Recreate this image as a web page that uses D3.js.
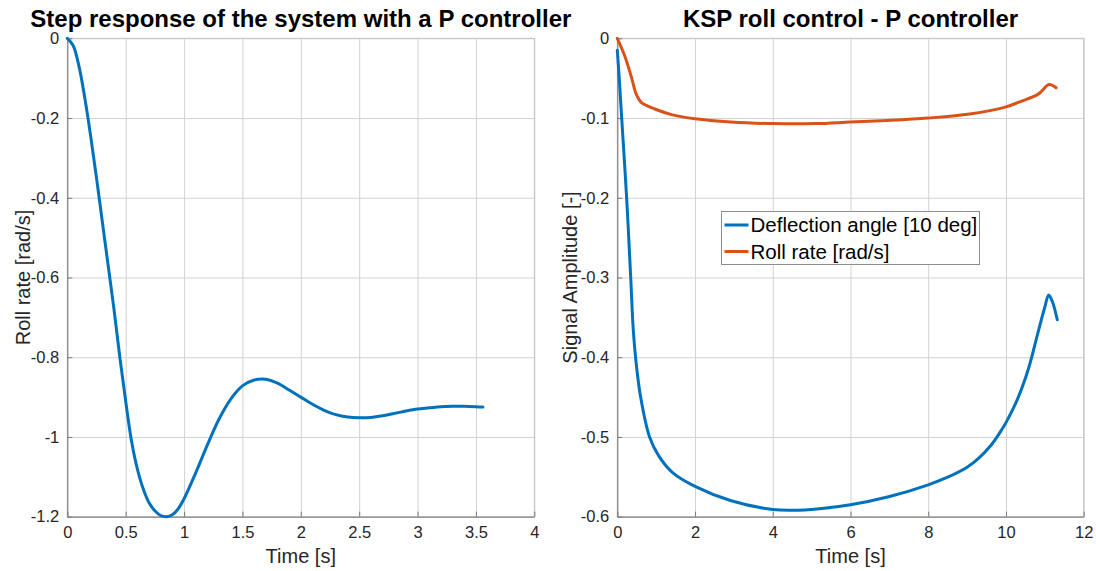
<!DOCTYPE html>
<html>
<head>
<meta charset="utf-8">
<script src="https://cdn.jsdelivr.net/npm/d3@7"></script>
<style>
  html, body { margin: 0; padding: 0; background: #fff; }
  svg { display: block; font-family: "Liberation Sans", Arial, Helvetica, sans-serif; }
</style>
</head>
<body>
<svg id="chart" width="1096" height="571"></svg>
<script>
// ---- Left panel: step response with a P controller ----
const stepTime = [0, 0.05, 0.10, 0.15, 0.20, 0.25, 0.30, 0.35, 0.40, 0.45, 0.50, 0.55, 0.60, 0.65, 0.70,
  0.75, 0.80, 0.85, 0.90, 0.95, 1.00, 1.10, 1.20, 1.30, 1.40, 1.50, 1.60, 1.70, 1.80, 1.90, 2.00,
  2.10, 2.20, 2.30, 2.40, 2.50, 2.60, 2.70, 2.80, 2.90, 3.00, 3.10, 3.20, 3.30, 3.40, 3.50, 3.56];
const stepRollRate = [0, -0.018, -0.07, -0.15, -0.245, -0.35, -0.46, -0.57, -0.68, -0.80, -0.91, -1.01, -1.08, -1.13, -1.165,
  -1.185, -1.197, -1.20, -1.195, -1.18, -1.155, -1.09, -1.02, -0.955, -0.905, -0.872, -0.857, -0.855, -0.865, -0.882, -0.90,
  -0.918, -0.933, -0.944, -0.950, -0.952, -0.951, -0.947, -0.941, -0.935, -0.930, -0.927, -0.924, -0.923, -0.923, -0.924, -0.925];
const leftXTicks = [0, 0.5, 1, 1.5, 2, 2.5, 3, 3.5, 4];
const leftXTickLabels = ["0", "0.5", "1", "1.5", "2", "2.5", "3", "3.5", "4"];
const leftYTicks = [0, -0.2, -0.4, -0.6, -0.8, -1, -1.2];
const leftYTickLabels = ["0", "-0.2", "-0.4", "-0.6", "-0.8", "-1", "-1.2"];

// ---- Right panel: KSP roll control ----
const deflTime = [0, 0.05, 0.113, 0.24, 0.345, 0.41, 0.48, 0.6, 0.83, 1.07, 1.43, 2.0, 2.93, 4.0, 4.5, 5.2, 6.0,
  6.98, 8.0, 8.5, 9.0, 9.3, 9.62, 9.85, 10.0, 10.2, 10.4, 10.6, 10.83, 11.0, 11.1, 11.2, 11.32];
const deflAngle = [-0.015, -0.05, -0.1, -0.2, -0.3, -0.365, -0.405, -0.45, -0.5, -0.524, -0.545, -0.562, -0.580, -0.591, -0.592, -0.590, -0.585,
  -0.575, -0.560, -0.5505, -0.538, -0.5265, -0.510, -0.494, -0.482, -0.463, -0.440, -0.411, -0.368, -0.337, -0.322, -0.331, -0.353];
const rateTime = [0, 0.19, 0.37, 0.47, 0.55, 0.63, 0.98, 1.42, 2.0, 2.92, 4.0, 5.1, 6.0, 6.96, 8.0, 9.07, 10.0, 10.39,
  10.83, 11.11, 11.29];
const rollRate = [0, -0.022, -0.05, -0.068, -0.076, -0.081, -0.089, -0.096, -0.101, -0.105, -0.107, -0.107, -0.105, -0.103, -0.100, -0.095, -0.086, -0.079,
  -0.070, -0.058, -0.062];
const rightXTicks = [0, 2, 4, 6, 8, 10, 12];
const rightXTickLabels = ["0", "2", "4", "6", "8", "10", "12"];
const rightYTicks = [0, -0.1, -0.2, -0.3, -0.4, -0.5, -0.6];
const rightYTickLabels = ["0", "-0.1", "-0.2", "-0.3", "-0.4", "-0.5", "-0.6"];
const legendLabels = ["Deflection angle [10 deg]", "Roll rate [rad/s]"];

const BLUE = "#0072BD";
const ORANGE = "#D95319";
const TEXT = "#262626";
const GRID = "#d2d2d2";
const AXIS = "#7a7a7a";

const svg = d3.select("#chart");

function drawPanel(opt) {
  const { left, right, top, bottom } = opt.box;
  const x = d3.scaleLinear().domain(opt.xDomain).range([left, right]);
  const y = d3.scaleLinear().domain(opt.yDomain).range([bottom, top]);
  const g = svg.append("g");

  // grid
  g.append("g").attr("transform", `translate(0,${bottom})`)
    .call(d3.axisBottom(x).tickValues(opt.xTicks).tickSize(-(bottom - top)).tickFormat(""))
    .call(s => { s.select(".domain").remove(); s.selectAll("line").attr("stroke", GRID).attr("stroke-width", 1); });
  g.append("g").attr("transform", `translate(${left},0)`)
    .call(d3.axisLeft(y).tickValues(opt.yTicks).tickSize(-(right - left)).tickFormat(""))
    .call(s => { s.select(".domain").remove(); s.selectAll("line").attr("stroke", GRID).attr("stroke-width", 1); });

  // box
  g.append("rect").attr("x", left).attr("y", top).attr("width", right - left).attr("height", bottom - top)
    .attr("fill", "none").attr("stroke", "#c4c4c4").attr("stroke-width", 1);

  // bottom and left axes with inward ticks
  const xAxis = g.append("g").attr("transform", `translate(0,${bottom})`)
    .call(d3.axisBottom(x).tickValues(opt.xTicks).tickSizeInner(-5).tickSizeOuter(0).tickPadding(10)
      .tickFormat((d, i) => opt.xLabels[i]));
  const yAxis = g.append("g").attr("transform", `translate(${left},0)`)
    .call(d3.axisLeft(y).tickValues(opt.yTicks).tickSizeInner(-5).tickSizeOuter(0).tickPadding(8)
      .tickFormat((d, i) => opt.yLabels[i]));
  [xAxis, yAxis].forEach(a => {
    a.select(".domain").attr("stroke", AXIS).attr("stroke-width", 1);
    a.selectAll(".tick line").attr("stroke", AXIS);
    a.selectAll(".tick text").attr("fill", TEXT).attr("font-size", 16.5)
      .attr("font-family", "'Liberation Sans', Arial, sans-serif");
  });

  // series
  opt.series.forEach(s => {
    const pts = s.t.map((t, i) => [t, s.v[i]]);
    g.append("path").datum(pts)
      .attr("fill", "none").attr("stroke", s.color).attr("stroke-width", 3)
      .attr("stroke-linejoin", "round").attr("stroke-linecap", "round")
      .attr("d", d3.line().x(d => x(d[0])).y(d => y(d[1])).curve(d3.curveCatmullRom.alpha(0.5)));
  });

  // title and axis labels
  const cx = (left + right) / 2;
  g.append("text").attr("x", cx).attr("y", 26.5).attr("text-anchor", "middle")
    .attr("font-size", 24).attr("font-weight", "bold").attr("fill", "#000").text(opt.title);
  g.append("text").attr("x", cx).attr("y", 563).attr("text-anchor", "middle")
    .attr("font-size", 20).attr("fill", TEXT).text(opt.xTitle);
  g.append("text").attr("transform", `translate(${opt.yTitleX},${(top + bottom) / 2}) rotate(-90)`)
    .attr("text-anchor", "middle").attr("font-size", 20).attr("fill", TEXT).text(opt.yTitle);

  return { x, y, g };
}

drawPanel({
  id: "L",
  box: { left: 67.3, right: 534.3, top: 38.3, bottom: 516.7 },
  xDomain: [0, 4], yDomain: [-1.2, 0],
  xTicks: leftXTicks, xLabels: leftXTickLabels,
  yTicks: leftYTicks, yLabels: leftYTickLabels,
  series: [{ t: stepTime, v: stepRollRate, color: BLUE }],
  title: "Step response of the system with a P controller",
  xTitle: "Time [s]", yTitle: "Roll rate [rad/s]", yTitleX: 30
});

drawPanel({
  id: "R",
  box: { left: 617.3, right: 1083.7, top: 38.3, bottom: 516.7 },
  xDomain: [0, 12], yDomain: [-0.6, 0],
  xTicks: rightXTicks, xLabels: rightXTickLabels,
  yTicks: rightYTicks, yLabels: rightYTickLabels,
  series: [
    { t: deflTime, v: deflAngle, color: BLUE },
    { t: rateTime, v: rollRate, color: ORANGE }
  ],
  title: "KSP roll control - P controller",
  xTitle: "Time [s]", yTitle: "Signal Amplitude [-]", yTitleX: 577
});

// legend
const lg = svg.append("g").attr("transform", "translate(721.5,211.5)");
lg.append("rect").attr("width", 258).attr("height", 53)
  .attr("fill", "#fff").attr("stroke", "#8c8c8c").attr("stroke-width", 1);
[BLUE, ORANGE].forEach((c, i) => {
  const yy = 13.5 + i * 26.5;
  lg.append("line").attr("x1", 3).attr("x2", 27).attr("y1", yy).attr("y2", yy)
    .attr("stroke", c).attr("stroke-width", 3);
  lg.append("text").attr("x", 29).attr("y", yy + 7).attr("font-size", 20.5).attr("fill", "#000")
    .text(legendLabels[i]);
});
</script>
</body>
</html>
